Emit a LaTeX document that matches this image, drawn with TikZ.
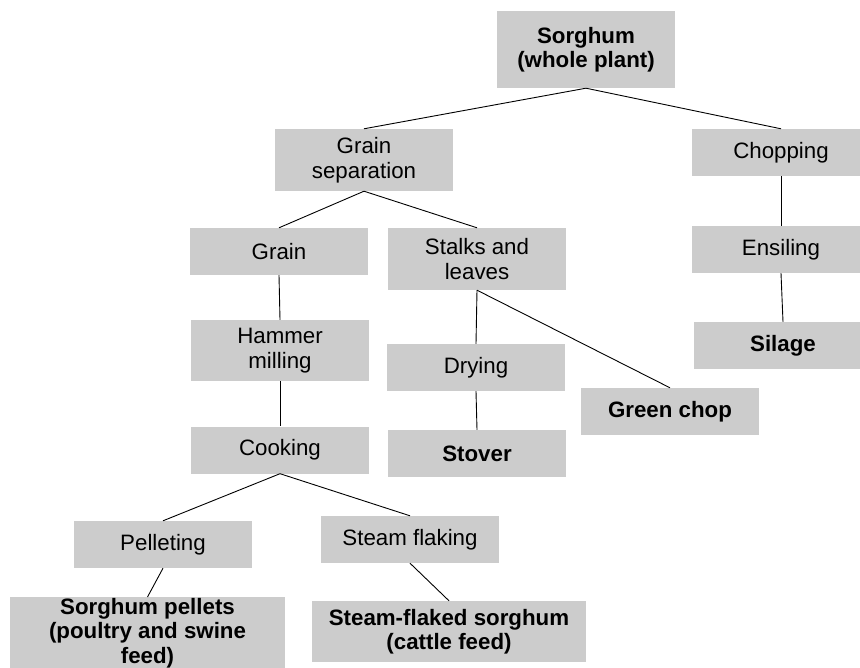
\documentclass[tikz,border=0pt]{standalone}
\usepackage{xcolor}
\usepackage{fontspec}
\setmainfont{Liberation Sans}
\usepackage{tikz}
\definecolor{boxgray}{HTML}{CCCCCC}
\newcommand{\flowfont}{\fontsize{22.3}{24.5}\selectfont}

\begin{document}
\begin{tikzpicture}[x=1pt,y=-1pt,
		stepbox/.style={fill=boxgray,minimum width=178pt,minimum height=47pt,inner sep=0pt,align=center,font=\flowfont},
		prodbox/.style={stepbox,font=\flowfont\bfseries},
		link/.style={line width=0.9pt}]
			
			\useasboundingbox (0,0) rectangle (860,668);
			
			\node[prodbox,minimum height=77pt] (whole) at (586,49.5) {Sorghum\\(whole plant)};
			\node[stepbox] (chop) at (781,152.5) {Chopping};
			\node[stepbox,minimum height=62pt] (gsep) at (364,160) {Grain\\separation};
			\node[stepbox] (grain) at (279,251.5) {Grain};
			\node[stepbox,minimum height=62pt] (stalks) at (477,259) {Stalks and\\leaves};
			\node[stepbox] (ensil) at (781,249.5) {Ensiling};
			\node[stepbox,minimum height=61pt] (hammer) at (280,350.5) {Hammer\\milling};
			\node[prodbox] (silage) at (783,345.5) {Silage};
			\node[stepbox] (drying) at (476,367.5) {Drying};
			\node[prodbox] (green) at (670,411.5) {Green chop};
			\node[stepbox] (cook) at (280,450) {Cooking};
			\node[prodbox] (stover) at (477,453.5) {Stover};
			\node[stepbox] (pellet) at (163,544.5) {Pelleting};
			\node[stepbox] (steam) at (410,539.5) {Steam flaking};
			\node[prodbox,minimum width=275pt,minimum height=72pt,anchor=north] (pellets) at (147.5,597) {Sorghum pellets\\(poultry and swine\\feed)};
			\node[prodbox,minimum width=274pt,minimum height=61pt] (sfs) at (449,631.5) {Steam-flaked sorghum\\(cattle feed)};
			
			\draw[link] (whole.south) -- (gsep.north);
			\draw[link] (whole.south) -- (chop.north);
			\draw[link] (gsep.south) -- (grain.north);
			\draw[link] (gsep.south) -- (stalks.north);
			\draw[link] (chop.south) -- (ensil.north);
			\draw[link] (ensil.south) -- (silage.north);
			\draw[link] (grain.south) -- (hammer.north);
			\draw[link] (hammer.south) -- (cook.north);
			\draw[link] (stalks.south) -- (drying.north);
			\draw[link] (stalks.south) -- (green.north);
			\draw[link] (drying.south) -- (stover.north);
			\draw[link] (cook.south) -- (pellet.north);
			\draw[link] (cook.south) -- (steam.north);
			\draw[link] (pellet.south) -- (pellets.north);
			\draw[link] (steam.south) -- (sfs.north);
			
		\end{tikzpicture}
\end{document}
